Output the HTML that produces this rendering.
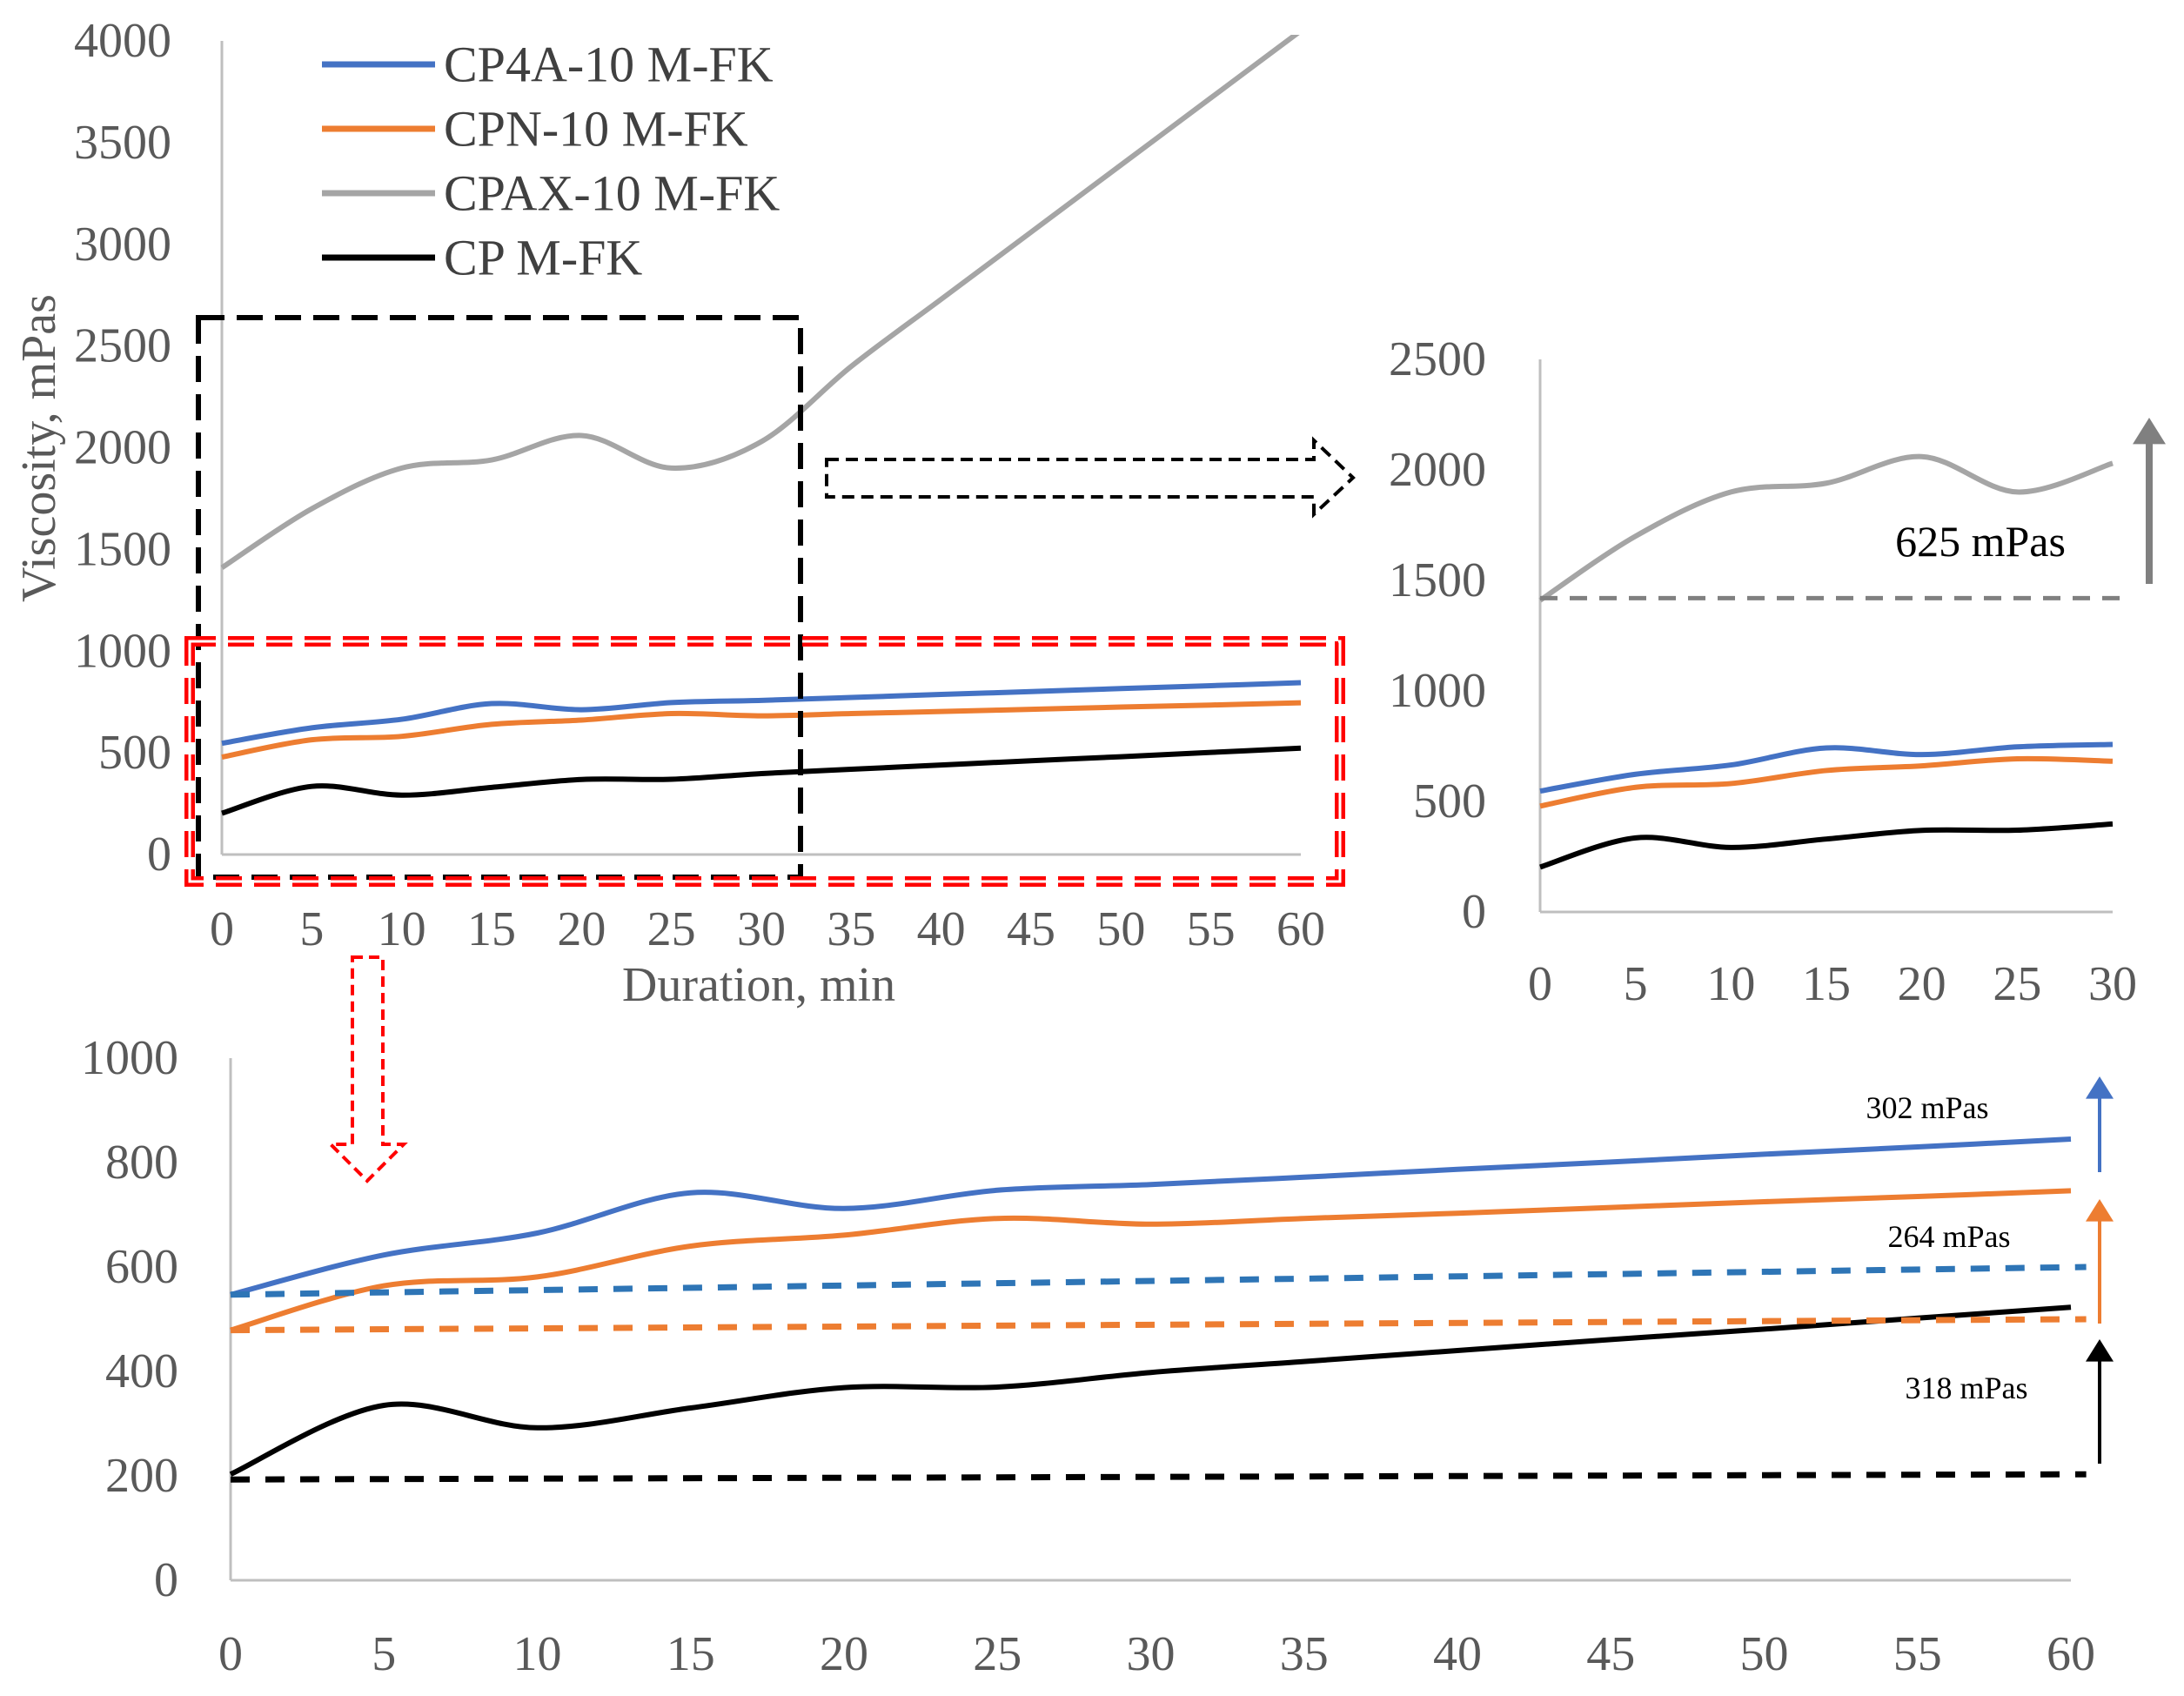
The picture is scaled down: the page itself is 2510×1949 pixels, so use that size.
<!DOCTYPE html>
<html><head><meta charset="utf-8"><style>
html,body{margin:0;padding:0;background:#fff}
svg{display:block}
text{font-family:"Liberation Serif",serif}
</style></head><body>
<svg id="fig" width="2510" height="1949" viewBox="0 0 2510 1949" xmlns="http://www.w3.org/2000/svg">
<defs>
<clipPath id="clipTL"><rect x="240" y="40" width="1280" height="960"/></clipPath>
</defs>
<g id="g-tl"></g>
<g id="g-tr"></g>
<g id="g-bt"></g>
<g id="g-ann"></g>
</svg>
<script>
const times = [0,5,10,15,20,25,30,35,40,45,50,55,60];
const cp4a = [547,623,665,742,712,747,758,772,787,801,816,830,845];
const cpn  = [479,564,581,640,661,693,682,693,703,714,725,735,746];
const cpax = [1410,1700,1900,1940,2060,1900,2030,2400,2730,3060,3390,3720,4050];
const cp   = [203,335,292,330,369,370,398,419,440,461,481,502,523];
const seriesNames = ["CP4A-10 M-FK","CPN-10 M-FK","CPAX-10 M-FK","CP M-FK"];
const tlYTicks = [0,500,1000,1500,2000,2500,3000,3500,4000];
const tlXTicks = [0,5,10,15,20,25,30,35,40,45,50,55,60];
const trYTicks = [0,500,1000,1500,2000,2500];
const trXTicks = [0,5,10,15,20,25,30];
const btYTicks = [0,200,400,600,800,1000];
const btXTicks = [0,5,10,15,20,25,30,35,40,45,50,55,60];
const blueBase = [547,600];
const orangeBase = [479,500];
const blackBase = [193,203];
const grayBase = [1420,1420];
const gainLabels = ["302 mPas","264 mPas","318 mPas","625 mPas"];

const NS="http://www.w3.org/2000/svg";
function el(tag, attrs, parent){const e=document.createElementNS(NS,tag);for(const k in attrs)e.setAttribute(k,attrs[k]);parent.appendChild(e);return e;}
function smooth(pts){
  let d="M"+pts[0][0]+","+pts[0][1];
  for(let i=0;i<pts.length-1;i++){
    const p0=pts[Math.max(i-1,0)],p1=pts[i],p2=pts[i+1],p3=pts[Math.min(i+2,pts.length-1)];
    const t=1/6;
    const c1=[p1[0]+(p2[0]-p0[0])*t,p1[1]+(p2[1]-p0[1])*t];
    const c2=[p2[0]-(p3[0]-p1[0])*t,p2[1]-(p3[1]-p1[1])*t];
    d+=" C"+c1[0]+","+c1[1]+" "+c2[0]+","+c2[1]+" "+p2[0]+","+p2[1];
  }
  return d;
}
const colors=["#4472C4","#ED7D31","#A5A5A5","#000000"];
const seriesKeys=["cp4a","cpn","cpax","cp"];
const allSeries=[cp4a,cpn,cpax,cp];

function chart(g, cfg){
  const sx=v=>cfg.x0+(v-cfg.xmin)/(cfg.xmax-cfg.xmin)*(cfg.x1-cfg.x0);
  const sy=v=>cfg.y0-(v-cfg.ymin)/(cfg.ymax-cfg.ymin)*(cfg.y0-cfg.y1);
  let a=el("line",{x1:cfg.x0,y1:cfg.y0,x2:cfg.x0,y2:cfg.y1,stroke:"#bfbfbf","stroke-width":3},g);
  
  
  a=el("line",{x1:cfg.x0,y1:cfg.y0,x2:cfg.x1,y2:cfg.y0,stroke:"#bfbfbf","stroke-width":3},g);
  
  
  cfg.yTicks.forEach(v=>{
    const t=el("text",{x:cfg.ylx,y:sy(v),"text-anchor":"end","dominant-baseline":"central","font-size":cfg.fs,fill:"#595959"},g);
    t.textContent=v;
    
    
  });
  cfg.xTicks.forEach(v=>{
    const t=el("text",{x:sx(v),y:cfg.xly,"text-anchor":"middle","dominant-baseline":"central","font-size":cfg.fs,fill:"#595959"},g);
    t.textContent=v;
    
    
  });
  const lg=el("g",cfg.clip?{"clip-path":"url(#"+cfg.clip+")"}:{},g);
  allSeries.forEach((arr,si)=>{
    if(cfg.skip && cfg.skip.includes(si))return;
    const pts=[];
    times.forEach((t,i)=>{if(t<=cfg.xmax)pts.push([sx(t),sy(arr[i])]);});
    const p=el("path",{d:smooth(pts),fill:"none",stroke:colors[si],"stroke-width":6,"stroke-linejoin":"round"},lg);
    
    
  });
  return {sx,sy};
}

// top-left main chart
const gTL=document.getElementById("g-tl");
chart(gTL,{x0:255,x1:1495,xmin:0,xmax:60,y0:982,y1:47,ymin:0,ymax:4000,yTicks:tlYTicks,xTicks:tlXTicks,ylx:197,xly:1068,fs:56,clip:"clipTL"});
let t=el("text",{x:872,y:1132,"text-anchor":"middle","dominant-baseline":"central","font-size":56,fill:"#595959"},gTL);
t.textContent="Duration,  min";


t=el("text",{x:0,y:0,"text-anchor":"middle","dominant-baseline":"central","font-size":56,fill:"#595959",transform:"translate(45,515) rotate(-90)"},gTL);
t.textContent="Viscosity,  mPas";


const legOrder=[0,1,2,3];
legOrder.forEach((si,i)=>{
  const y=74+i*74;
  const l=el("line",{x1:370,y1:y,x2:500,y2:y,stroke:colors[si],"stroke-width":7},gTL);
  
  
  const tx=el("text",{x:510,y:y,"dominant-baseline":"central","font-size":58,fill:"#404040"},gTL);
  tx.textContent=seriesNames[si];
  
  
});

// top-right zoom chart
const gTR=document.getElementById("g-tr");
const tr=chart(gTR,{x0:1770,x1:2428,xmin:0,xmax:30,y0:1048,y1:413,ymin:0,ymax:2500,yTicks:trYTicks,xTicks:trXTicks,ylx:1708,xly:1131,fs:56});
let b=el("line",{x1:tr.sx(0),y1:tr.sy(grayBase[0]),x2:tr.sx(31),y2:tr.sy(grayBase[1]),stroke:"#808080","stroke-width":5,"stroke-dasharray":"20 14"},gTR);



// bottom chart
const gBT=document.getElementById("g-bt");
const bt=chart(gBT,{x0:265,x1:2380,xmin:0,xmax:60,y0:1816,y1:1216,ymin:0,ymax:1000,yTicks:btYTicks,xTicks:btXTicks,ylx:205,xly:1901,fs:56,skip:[2]});
[[blueBase,"#2E75B6","cp4a"],[orangeBase,"#ED7D31","cpn"],[blackBase,"#000","cp"]].forEach(([arr,c,k])=>{
  const l=el("line",{x1:bt.sx(0),y1:bt.sy(arr[0]),x2:bt.sx(60.5),y2:bt.sy(arr[1]),stroke:c,"stroke-width":7,"stroke-dasharray":"22 18"},gBT);
  
  
});

// annotations
const gA=document.getElementById("g-ann");
function arrowUp(x,yb,yt,c,w,hw,name){
  const g=el("g",{},gA);
  
  
  el("line",{x1:x,y1:yb,x2:x,y2:yt+hw*1.4,stroke:c,"stroke-width":w},g);
  el("polygon",{points:(x-hw)+","+(yt+hw*1.6)+" "+x+","+yt+" "+(x+hw)+","+(yt+hw*1.6),fill:c},g);
}
arrowUp(2413,1347,1237,"#4472C4",4,16,"gain-arrow-cp4a");
arrowUp(2413,1521,1378,"#ED7D31",4,16,"gain-arrow-cpn");
arrowUp(2413,1682,1539,"#000",4,16,"gain-arrow-cp");
arrowUp(2470,671,480,"#808080",8,19,"gain-arrow-cpax");
[[gainLabels[0],2215,1273,36],[gainLabels[1],2240,1421,36],[gainLabels[2],2260,1595,36],[gainLabels[3],2276,622,50]].forEach(([s,x,y,f],i)=>{
  const tx=el("text",{x:x,y:y,"text-anchor":"middle","dominant-baseline":"central","font-size":f,fill:"#000"},gA);
  tx.textContent=s;
  
  
});
// black dashed zoom rectangle
let r=el("rect",{x:228,y:365,width:692,height:643,fill:"none",stroke:"#000","stroke-width":6,"stroke-dasharray":"30 14"},gA);


// red double dashed rectangle
r=el("rect",{x:218,y:737,width:1322,height:276,fill:"none",stroke:"#ff0000","stroke-width":12,"stroke-dasharray":"30 14"},gA);


el("rect",{x:218,y:737,width:1322,height:276,fill:"none",stroke:"#fff","stroke-width":3,"stroke-dasharray":"30 14"},gA);
// right dashed arrow
let p=el("path",{d:"M950,528 L1510,528 L1510,506 L1555,549 L1510,591 L1510,571 L950,571 Z",fill:"none",stroke:"#000","stroke-width":4,"stroke-dasharray":"14 8"},gA);


// red dashed down arrow
p=el("path",{d:"M405,1100 L440,1100 L440,1315 L464,1315 L422,1357 L380,1315 L405,1315 Z",fill:"none",stroke:"#ff0000","stroke-width":4,"stroke-dasharray":"12 7"},gA);


</script>
</body></html>
